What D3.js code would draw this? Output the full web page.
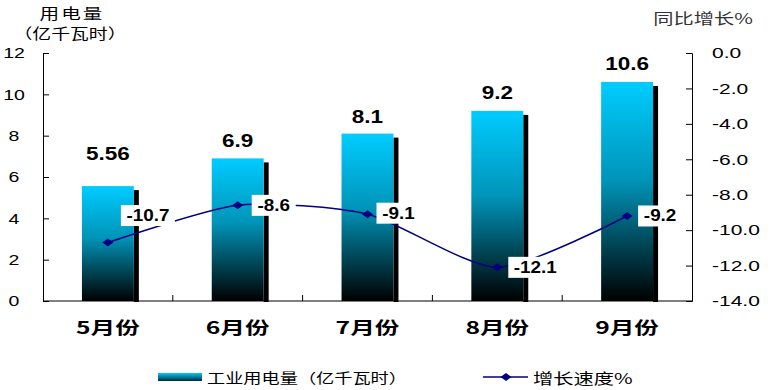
<!DOCTYPE html>
<html>
<head>
<meta charset="utf-8">
<script src="https://cdn.jsdelivr.net/npm/d3@7"></script>
<style>
  body { margin: 0; background: #fff; }
  svg { display: block; }
</style>
</head>
<body>
<svg id="chart"></svg>
<script>
// data
const months = ['5月份', '6月份', '7月份', '8月份', '9月份'];
const power = [5.56, 6.9, 8.1, 9.2, 10.6];
const powerText = ['5.56', '6.9', '8.1', '9.2', '10.6'];
const growth = [-10.7, -8.6, -9.1, -12.1, -9.2];
const leftTicks = [0, 2, 4, 6, 8, 10, 12];
const rightTicks = [0, -2, -4, -6, -8, -10, -12, -14];

const width = 771, height = 390;
const margin = {top: 53, right: 79, bottom: 89, left: 43};
const cnFont = '"Noto Sans CJK SC", sans-serif';
const numFont = '"Liberation Sans", Arial, sans-serif';

const svg = d3.select('#chart')
    .attr('width', width)
    .attr('height', height);

// the original picture is stretched sideways, so text is too
function addText(parent, px, py, str, opt) {
    return parent.append('text')
        .attr('transform', `translate(${px},${py}) scale(${opt.sx || 1.3},1)`)
        .attr('text-anchor', opt.anchor || 'middle')
        .attr('dominant-baseline', 'central')
        .style('font-family', opt.font || numFont)
        .style('font-weight', opt.bold ? 'bold' : 'normal')
        .style('font-size', (opt.size || 15) + 'px')
        .style('letter-spacing', (opt.ls || 0) + 'px')
        .style('fill', opt.fill || '#000')
        .text(str);
}

const defs = svg.append('defs');
const grad = defs.append('linearGradient')
    .attr('id', 'barGrad')
    .attr('x1', 0).attr('y1', 0).attr('x2', 0).attr('y2', 1);
grad.append('stop').attr('offset', '0%').attr('stop-color', '#00ccff');
grad.append('stop').attr('offset', '45%').attr('stop-color', '#0094b8');
grad.append('stop').attr('offset', '100%').attr('stop-color', '#000000');

const legGrad = defs.append('linearGradient')
    .attr('id', 'legGrad')
    .attr('x1', 0).attr('y1', 0).attr('x2', 0).attr('y2', 1);
legGrad.append('stop').attr('offset', '0%').attr('stop-color', '#00ccff');
legGrad.append('stop').attr('offset', '100%').attr('stop-color', '#002a38');

const x = d3.scaleBand()
    .domain(months)
    .range([margin.left, width - margin.right])
    .paddingInner(0).paddingOuter(0);
const cx = i => x(months[i]) + x.bandwidth() / 2;

const yL = d3.scaleLinear().domain([0, 12]).range([height - margin.bottom, margin.top]);
const yR = d3.scaleLinear().domain([-14, 0]).range([height - margin.bottom, margin.top]);

const barW = x.bandwidth() * 0.4;

// bars with shadow
const bars = svg.append('g');
bars.selectAll('rect.shadow')
    .data(power)
    .join('rect')
    .attr('class', 'shadow')
    .attr('x', (d, i) => cx(i) + barW / 2)
    .attr('y', d => yL(d) + 4)
    .attr('width', 5)
    .attr('height', d => yL(0) - yL(d) - 3)
    .attr('fill', '#000');

bars.selectAll('rect.bar')
    .data(power)
    .join('rect')
    .attr('class', 'bar')
    .attr('x', (d, i) => cx(i) - barW / 2)
    .attr('y', d => yL(d))
    .attr('width', barW)
    .attr('height', d => yL(0) - yL(d))
    .attr('fill', 'url(#barGrad)');

const valOffset = [-32, -18, -17, -18, -18];
power.forEach((d, i) => {
    addText(bars, cx(i), yL(d) + valOffset[i], powerText[i], {bold: true, size: 18, sx: 1.25});
});

// axes
const axisL = svg.append('g')
    .attr('transform', `translate(${margin.left},0)`)
    .call(d3.axisRight(yL).tickValues(leftTicks).tickSize(6).tickFormat(''));
leftTicks.forEach(t => addText(svg, 14, yL(t), String(t), {size: 15, sx: 1.3}));

const axisR = svg.append('g')
    .attr('transform', `translate(${width - margin.right},0)`)
    .call(d3.axisLeft(yR).tickValues(rightTicks).tickSize(6).tickFormat(''));
rightTicks.forEach(t => addText(svg, width - margin.right + 20, yR(t), t.toFixed(1), {anchor: 'start', size: 15, sx: 1.4}));

[axisL, axisR].forEach(a => a.selectAll('path,line').attr('stroke', '#000'));

const axisB = svg.append('g')
    .attr('transform', `translate(0,${yL(0)})`);
axisB.append('line')
    .attr('x1', margin.left).attr('x2', width - margin.right)
    .attr('stroke', '#000');
axisB.selectAll('line.tk')
    .data(months.slice(1))
    .join('line')
    .attr('class', 'tk')
    .attr('x1', d => x(d)).attr('x2', d => x(d))
    .attr('y1', 0).attr('y2', -6)
    .attr('stroke', '#000');
months.forEach((m, i) => addText(axisB, cx(i), 25, m, {font: cnFont, bold: true, size: 17, sx: 1.45}));

// growth line
const line = d3.line()
    .x((d, i) => cx(i))
    .y(d => yR(d))
    .curve(d3.curveCardinal.tension(0.3));

svg.append('path')
    .datum(growth)
    .attr('d', line)
    .attr('fill', 'none')
    .attr('stroke', '#000080')
    .attr('stroke-width', 1.5);

const diamond = 'M-5.5,0L0,-4L5.5,0L0,4Z';
svg.selectAll('path.pt')
    .data(growth)
    .join('path')
    .attr('class', 'pt')
    .attr('d', diamond)
    .attr('transform', (d, i) => `translate(${cx(i)},${yR(d)})`)
    .attr('fill', '#000080');

const labOffset = [[40, -27], [36, 0], [31, -1], [38, 0], [33, 0]];
growth.forEach((d, i) => {
    const g = svg.append('g')
        .attr('transform', `translate(${cx(i) + labOffset[i][0]},${yR(d) + labOffset[i][1]})`);
    const w = d < -10 ? 54 : 44;
    g.append('rect')
        .attr('x', -w / 2).attr('y', -10.5)
        .attr('width', w).attr('height', 21)
        .attr('fill', '#fff');
    addText(g, 0, 0, d.toFixed(1), {bold: true, size: 16, sx: 1.18});
});

// axis titles
addText(svg, 72, 13, '用电量', {font: cnFont, size: 14.5, sx: 1.35, ls: 1.5});
addText(svg, 70, 33, '（亿千瓦时）', {font: cnFont, size: 14.5, sx: 1.3});
addText(svg, 703, 17, '同比增长%', {font: cnFont, size: 15, sx: 1.35, fill: '#333'});

// legend
const leg = svg.append('g').attr('transform', 'translate(0,377)');
leg.append('rect')
    .attr('x', 158).attr('y', -4).attr('width', 44).attr('height', 8)
    .attr('fill', 'url(#legGrad)');
addText(leg, 207, 0, '工业用电量（亿千瓦时）', {font: cnFont, size: 14, anchor: 'start', sx: 1.3});
leg.append('line')
    .attr('x1', 483).attr('x2', 528)
    .attr('stroke', '#000080').attr('stroke-width', 1.5);
leg.append('path')
    .attr('d', diamond)
    .attr('transform', 'translate(506,0)')
    .attr('fill', '#000080');
addText(leg, 533, 0, '增长速度%', {font: cnFont, size: 15, anchor: 'start', sx: 1.35});
</script>
</body>
</html>
